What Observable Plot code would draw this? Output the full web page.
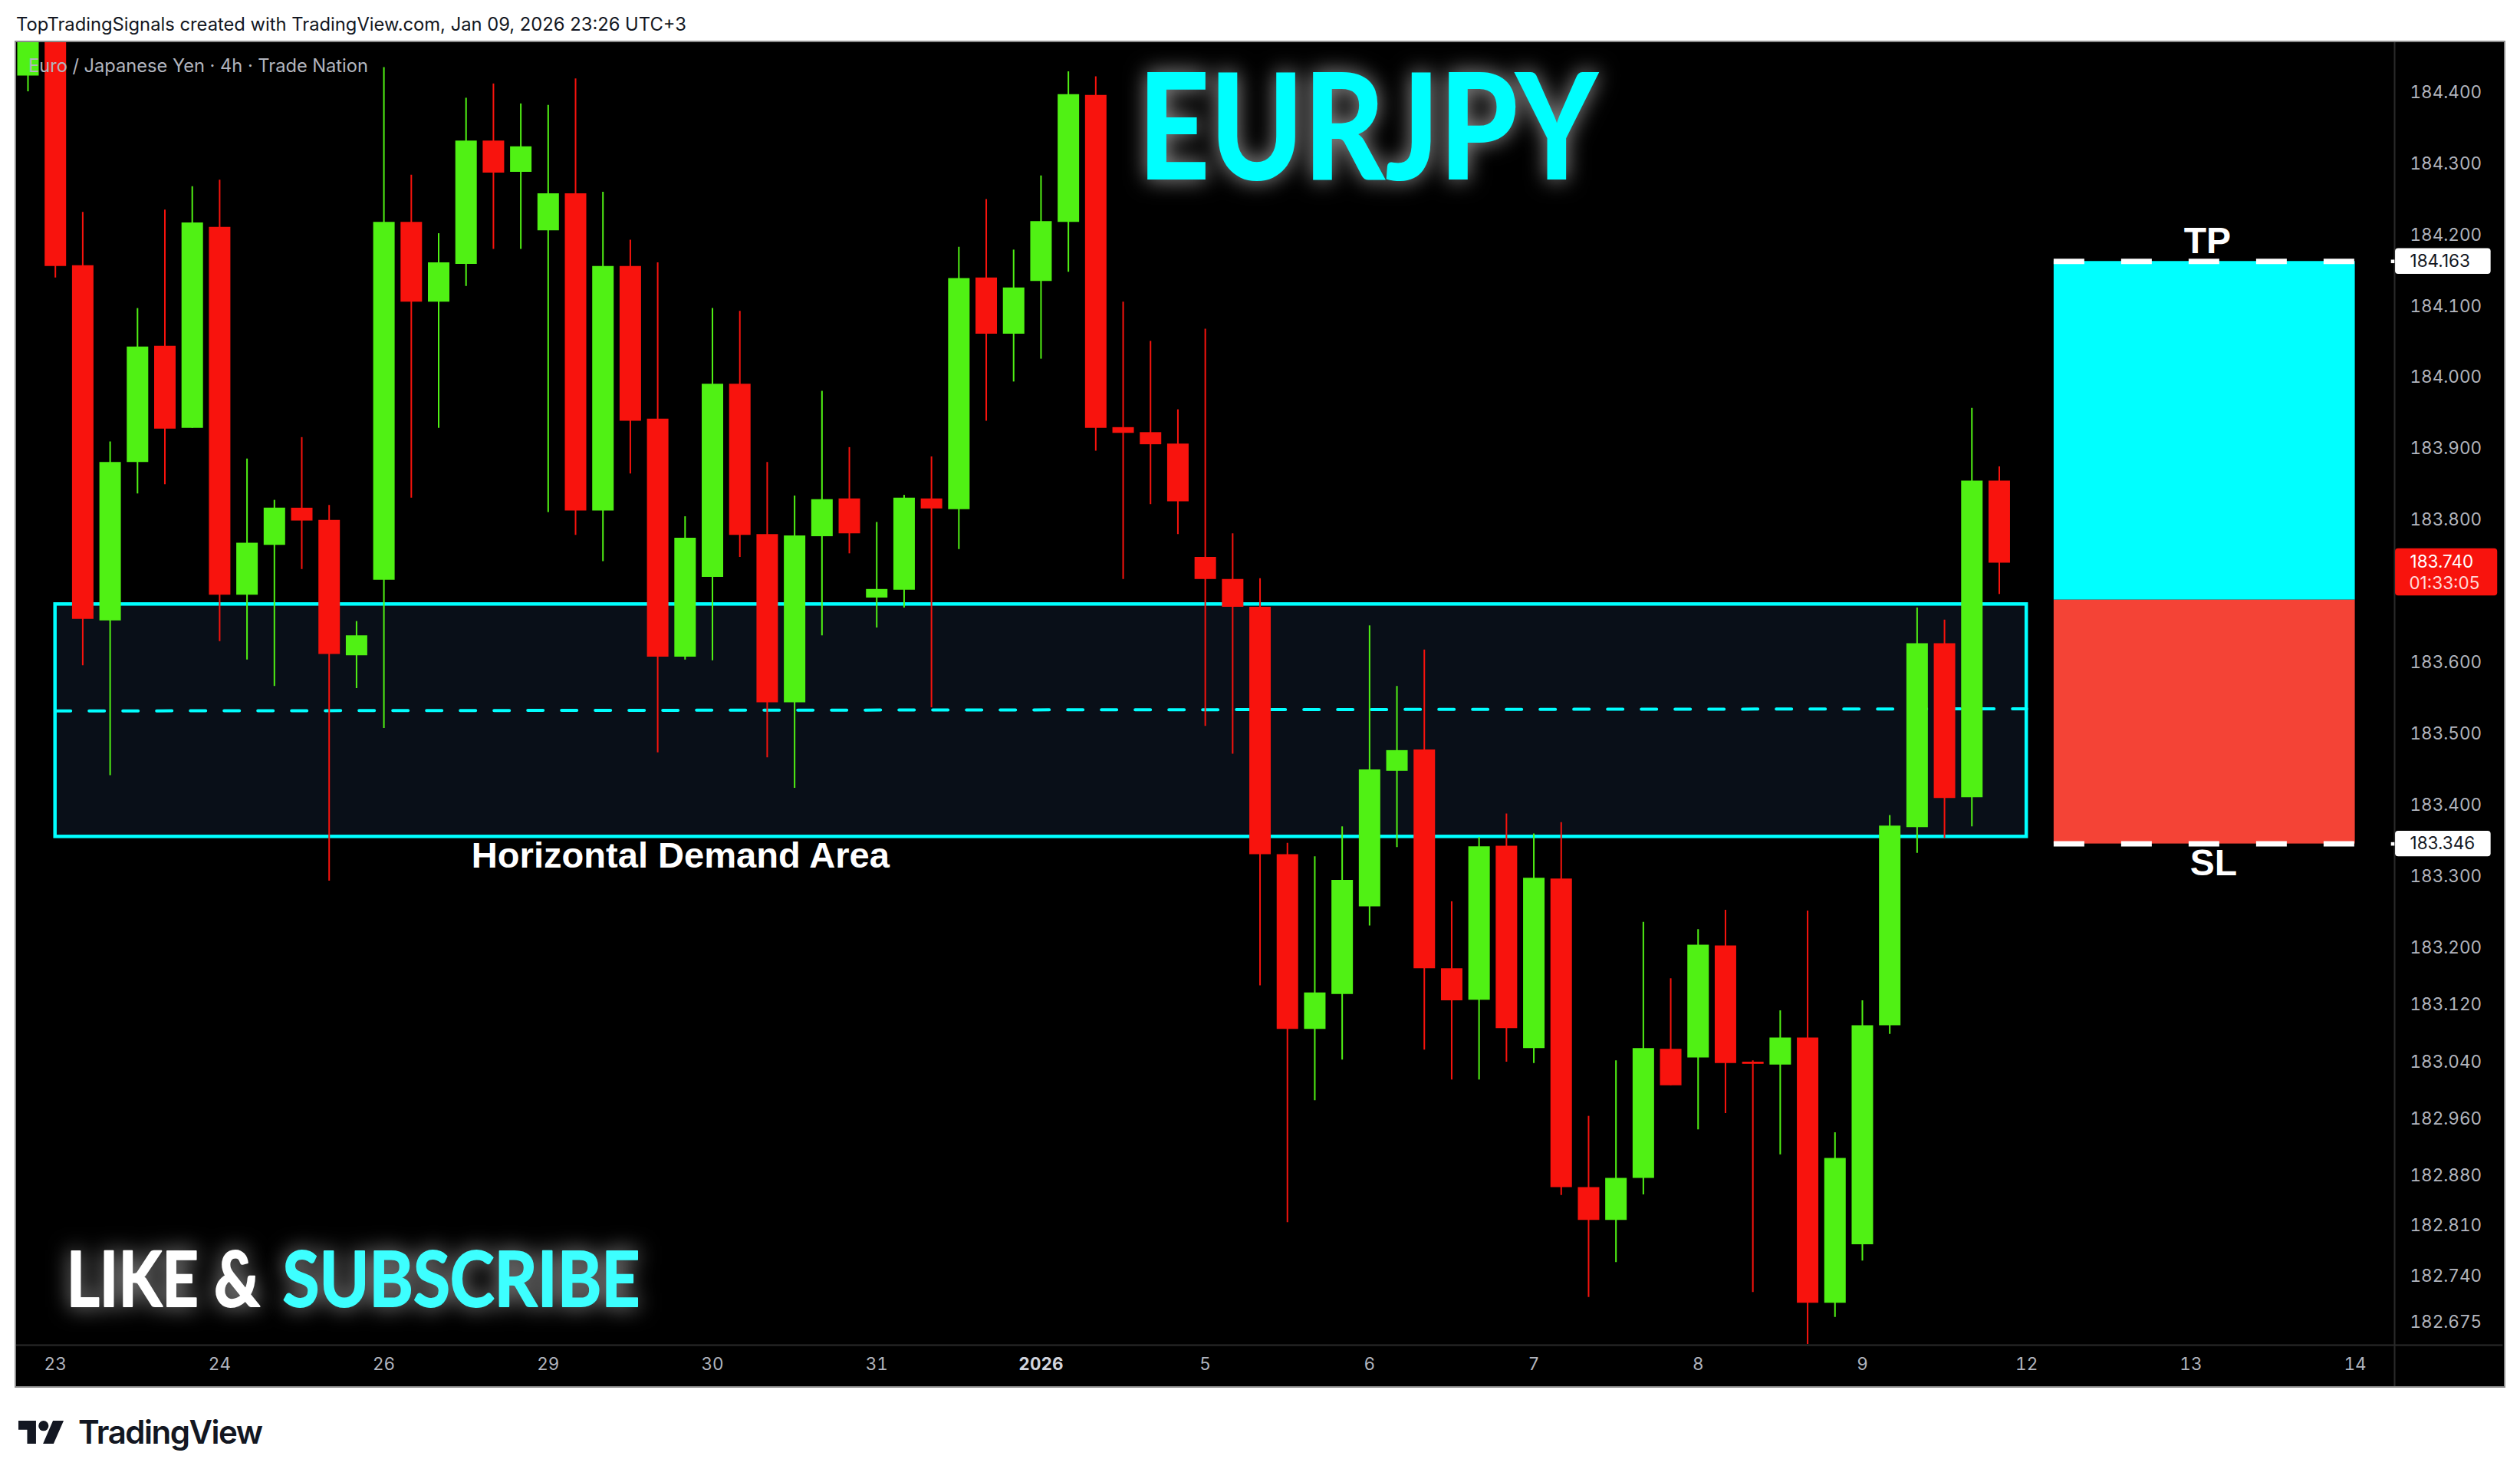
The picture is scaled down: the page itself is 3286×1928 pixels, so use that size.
<!DOCTYPE html>
<html>
<head>
<meta charset="utf-8">
<script src="https://cdn.jsdelivr.net/npm/d3@7"></script>
<script src="https://cdn.jsdelivr.net/npm/@observablehq/plot@0.6"></script>
<style>
  html, body { margin: 0; padding: 0; background: #fff; }
  #page { position: relative; width: 3286px; height: 1928px; overflow: hidden; }
  #head { position: absolute; left: 21px; top: 16px; font: 400 23.75px/32px Inter, sans-serif; color: #131722; white-space: nowrap; }
  #chart { position: absolute; left: 20px; top: 54px; }
  #chart svg { display: block; outline: 2px solid #8c8c8c; outline-offset: -1px; }
  #logo { position: absolute; left: 24px; top: 1852px; }
  #brand { position: absolute; left: 102px; top: 1840px; font: 600 42px/54px Inter, sans-serif; color: #131722; white-space: nowrap; letter-spacing: -1.5px; }
</style>
</head>
<body>
<div id="page">
  <div id="head">TopTradingSignals created with TradingView.com, Jan 09, 2026 23:26 UTC+3</div>
  <div id="chart"></div>
  <svg id="logo" width="59" height="30" viewBox="0 7 36 18" preserveAspectRatio="none"><path fill="#131722" d="M14 25H7V14H0V7h14v18zM28 25h-8.4L27.5 7H36l-8 18z"/><circle fill="#131722" cx="20" cy="11" r="4"/></svg>
  <div id="brand">TradingView</div>
</div>
<script>
const opens = [184.423,184.66,184.157,183.659,183.881,184.044,183.929,184.211,183.695,183.765,183.817,183.8,183.61,183.716,184.218,184.106,184.159,184.332,184.288,184.206,184.258,183.813,184.156,183.942,183.608,183.72,183.991,183.78,183.544,183.777,183.83,183.691,183.702,183.83,183.815,184.14,184.061,184.135,184.218,184.396,183.93,183.923,183.907,183.748,183.717,183.678,183.331,183.086,183.135,183.258,183.448,183.478,183.171,183.127,183.343,183.059,183.297,182.864,182.818,182.877,183.058,183.046,183.203,183.04,183.036,183.074,182.702,182.784,183.091,183.369,183.627,183.411,183.855];
const closes = [184.62,184.156,183.661,183.881,184.043,183.928,184.217,183.695,183.768,183.817,183.799,183.612,183.638,184.218,184.106,184.161,184.332,184.287,184.324,184.258,183.813,184.156,183.939,183.608,183.775,183.991,183.779,183.544,183.778,183.829,183.781,183.703,183.831,183.816,184.139,184.061,184.126,184.219,184.397,183.929,183.922,183.906,183.826,183.717,183.678,183.331,183.086,183.137,183.295,183.45,183.477,183.171,183.126,183.342,183.087,183.298,182.864,182.818,182.877,183.059,183.007,183.204,183.038,183.037,183.074,182.702,182.905,183.091,183.371,183.627,183.41,183.855,183.74];
const highs = [184.66,184.7,184.232,183.91,184.097,184.235,184.268,184.277,183.886,183.828,183.916,183.821,183.658,184.435,184.284,184.202,184.392,184.412,184.384,184.382,184.419,184.26,184.193,184.161,183.805,184.097,184.093,183.881,183.834,183.981,183.902,183.797,183.835,183.889,184.183,184.25,184.179,184.283,184.429,184.422,184.106,184.051,183.955,184.068,183.781,183.718,183.347,183.328,183.37,183.652,183.567,183.618,183.265,183.355,183.388,183.36,183.376,182.964,183.042,183.236,183.157,183.226,183.253,183.042,183.112,183.252,182.941,183.126,183.386,183.677,183.66,183.957,183.875];
const lows = [184.401,184.14,183.596,183.442,183.837,183.85,183.929,183.63,183.604,183.567,183.731,183.294,183.564,183.508,183.831,183.929,184.128,184.18,184.18,183.811,183.779,183.742,183.865,183.474,183.604,183.603,183.748,183.467,183.424,183.638,183.753,183.649,183.677,183.537,183.759,183.939,183.994,184.026,184.148,183.897,183.717,183.822,183.78,183.511,183.472,183.147,182.815,182.986,183.043,183.231,183.341,183.057,183.015,183.015,183.04,183.038,182.853,182.71,182.759,182.854,183.007,182.945,182.968,182.717,182.91,182.644,182.682,182.761,183.079,183.333,183.354,183.37,183.696];

const xTickBars = [1,7,13,19,25,31,43,49,55,61,67,73,79,85];
const xTickLabels = ["23","24","26","29","30","31","5","6","7","8","9","12","13","14"];
const yearBar = 37, yearLabel = "2026";
const priceTicks = [184.4,184.3,184.2,184.1,184.0,183.9,183.8,183.6,183.5,183.4,183.3,183.2,183.12,183.04,182.96,182.88,182.81,182.74,182.675];

const zoneTop = 183.682, zoneBottom = 183.356, zoneStart = 1, zoneEnd = 73;
const zoneMid = [183.5325, 183.5355];
const boxStart = 74, boxEnd = 85, tp = 184.163, entry = 183.688, sl = 183.346;
const lastPrice = 183.74, countdown = "01:33:05";

const GREEN = "#50F114", RED = "#F8130D", CYAN = "#00FFFF", AXIS = "#B2B5BE";
const candles = opens.map((o, i) => ({i, open: o, close: closes[i], high: highs[i], low: lows[i], color: closes[i] >= o ? GREEN : RED}));
const fmt = d3.format(".3f");

// annotation text -> drawn width
const textWidths = {"EURJPY": 600, "LIKE &": 252, "SUBSCRIBE": 466, "Horizontal Demand Area": 545, "Euro / Japanese Yen · 4h · Trade Nation": 443};

const glow = "drop-shadow(0 0 14px rgba(255,255,255,0.6))";
const AXIS_FONT = 22.5;

const svg = Plot.plot({
  width: 3246, height: 1754,
  marginTop: 0, marginLeft: 0, marginRight: 144, marginBottom: 55,
  style: {background: "#000", fontFamily: "Inter, sans-serif", overflow: "visible"},
  x: {type: "linear", domain: [-0.448, 86.44]},
  y: {type: "linear", domain: [182.643, 184.471]},
  marks: [
    Plot.ruleY([182.643], {stroke: "#2a2a2a", strokeWidth: 2, x1: -0.448, x2: 90.4}),
    Plot.ruleX([86.44], {stroke: "#2a2a2a", strokeWidth: 2, y1: 182.584, y2: 184.471}),
    Plot.axisX({anchor: "bottom", ticks: xTickBars, tickFormat: (d) => xTickLabels[xTickBars.indexOf(d)], tickSize: 0, tickPadding: 17, fontSize: AXIS_FONT, fill: AXIS, label: null}),
    Plot.axisX({anchor: "bottom", ticks: [yearBar], tickFormat: () => yearLabel, tickSize: 0, tickPadding: 17, fontSize: AXIS_FONT, fontWeight: 700, fill: "#D1D4DC", label: null}),
    Plot.axisY({anchor: "right", ticks: priceTicks, tickFormat: fmt, tickSize: 0, tickPadding: 20, fontSize: AXIS_FONT, fill: AXIS, label: null}),

    Plot.rect([{}], {x1: zoneStart, x2: zoneEnd, y1: zoneBottom, y2: zoneTop, fill: "#090F18", stroke: CYAN, strokeWidth: 4.5}),
    Plot.line([0, 1], {x: (d) => [zoneStart, zoneEnd][d], y: (d) => zoneMid[d], stroke: CYAN, strokeWidth: 4, strokeDasharray: "20,24"}),

    Plot.ruleX(candles, {x: "i", y1: "low", y2: "high", stroke: "color", strokeWidth: 2, clip: true}),
    Plot.ruleX(candles, {x: "i", y1: "open", y2: "close", stroke: "color", strokeWidth: 28, clip: true}),

    Plot.rect([{}], {x1: boxStart, x2: boxEnd, y1: entry, y2: tp, fill: CYAN}),
    Plot.rect([{}], {x1: boxStart, x2: boxEnd, y1: sl, y2: entry, fill: "#F44336"}),
    Plot.ruleY([tp, sl], {x1: boxStart, x2: boxEnd, stroke: "#fff", strokeWidth: 7, strokeDasharray: "40,48"}),

    Plot.rect([tp, sl], {x1: 86.47, x2: 89.96, y1: (d) => d - 0.018, y2: (d) => d + 0.018, fill: "#fff", rx: 4}),
    Plot.dot([tp, sl], {x: 86.37, y: (d) => d, symbol: "square", r: 2.6, fill: "#fff"}),
    Plot.text([tp, sl], {x: 87, y: (d) => d, text: fmt, textAnchor: "start", fontSize: AXIS_FONT, fill: "#131722"}),

    Plot.rect([lastPrice], {x1: 86.47, x2: 90.2, y1: 183.694, y2: 183.76, fill: RED, rx: 4}),
    Plot.text([lastPrice], {x: 87, y: 183.7415, text: fmt, textAnchor: "start", fontSize: AXIS_FONT, fill: "#fff"}),
    Plot.text([countdown], {x: 86.97, y: 183.711, text: (d) => d, textAnchor: "start", fontSize: AXIS_FONT, fill: "#FFD9D8"}),

    Plot.text(["TP"], {x: 79.6, y: 184.191, text: (d) => d, fontSize: 48, fontWeight: 700, fontFamily: "Liberation Sans", fill: "#fff"}),
    Plot.text(["SL"], {x: 79.83, y: 183.319, text: (d) => d, fontSize: 48, fontWeight: 700, fontFamily: "Liberation Sans", fill: "#fff"}),
    Plot.text(["Horizontal Demand Area"], {x: 16.2, y: 183.329, text: (d) => d, textAnchor: "start", fontSize: 46, fontWeight: 700, fontFamily: "Liberation Sans", fill: "#fff"}),

    Plot.text(["Euro / Japanese Yen · 4h · Trade Nation"], {x: 0.013, y: 184.437, text: (d) => d, textAnchor: "start", fontSize: 24, fill: AXIS}),

    Plot.text(["EURJPY"], {x: 40.54, y: 184.344, text: (d) => d, textAnchor: "start", fontSize: 192, fontWeight: 900, fontFamily: "Lato", fill: CYAN, imageFilter: glow}),
    Plot.text(["LIKE &"], {x: 1.41, y: 182.732, text: (d) => d, textAnchor: "start", fontSize: 100, fontWeight: 700, fontFamily: "Lato", fill: "#fff", stroke: "#fff", strokeWidth: 2, imageFilter: glow}),
    Plot.text(["SUBSCRIBE"], {x: 9.3, y: 182.732, text: (d) => d, textAnchor: "start", fontSize: 100, fontWeight: 700, fontFamily: "Lato", fill: "#3DFFFF", stroke: "#3DFFFF", strokeWidth: 2, imageFilter: glow})
  ]
});

d3.select(svg).selectAll("text").each(function () {
  const w = textWidths[this.textContent];
  if (w) { this.setAttribute("textLength", w); this.setAttribute("lengthAdjust", "spacingAndGlyphs"); }
});
document.getElementById("chart").appendChild(svg);
</script>
</body>
</html>
